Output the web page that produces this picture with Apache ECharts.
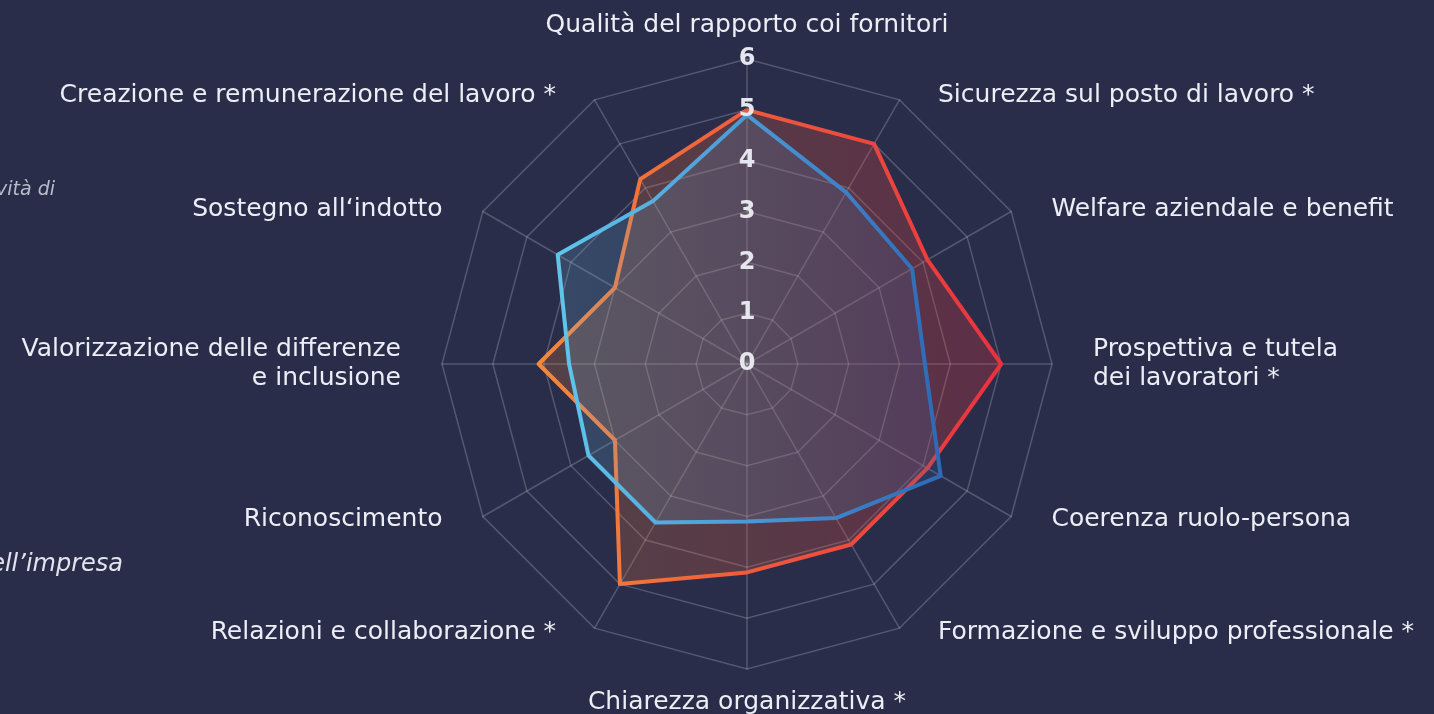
<!DOCTYPE html>
<html>
<head>
<meta charset="utf-8">
<style>
  html, body { margin: 0; padding: 0; background: #2a2d4a; }
  #chart { width: 1434px; height: 714px; }
</style>
<script src="https://cdn.jsdelivr.net/npm/echarts@6/dist/echarts.min.js"></script>
</head>
<body>
<div id="chart"></div>
<script>
// Indicators in ECharts radar order (starting at top, going counter-clockwise)
const indicatorNames = [
  "Qualità del rapporto coi fornitori",
  "Creazione e remunerazione del lavoro *",
  "Sostegno all‘indotto",
  "Valorizzazione delle differenze\ne inclusione",
  "Riconoscimento",
  "Relazioni e collaborazione *",
  "Chiarezza organizzativa *",
  "Formazione e sviluppo professionale *",
  "Coerenza ruolo-persona",
  "Prospettiva e tutela\ndei lavoratori *",
  "Welfare aziendale e benefit",
  "Sicurezza sul posto di lavoro *"
];
const scaleMax = 6;
const tickLabels = ["0", "1", "2", "3", "4", "5", "6"];

const seriesRedValues  = [5.0, 4.2, 3.0, 4.1, 3.0, 5.0, 4.1, 4.1, 4.1, 5.0, 4.1, 5.0];
const seriesBlueValues = [4.9, 3.7, 4.3, 3.5, 3.6, 3.6, 3.1, 3.5, 4.4, 3.5, 3.75, 3.9];

const sideTexts = ["attività di", "dell’impresa"];

const FONT = "'DejaVu Sans', 'Open Sans', sans-serif";
const CENTER = [747, 364];
const RADIUS = 305;

const chart = echarts.init(document.getElementById('chart'), null, { renderer: 'canvas' });

const tickLabelStyle = {
  margin: 0,
  align: 'center',
  verticalAlign: 'middle',
  color: '#e6e7ee',
  fontSize: 24,
  fontWeight: 'bold',
  fontFamily: FONT,
  formatter: (v) => tickLabels[Math.round(v)] ?? ''
};

const gridIndicators = indicatorNames.map(n => ({ name: n, min: 0, max: scaleMax }));
const labelIndicators = indicatorNames.map((n, i) => {
  const ind = { name: n, min: 0, max: scaleMax };
  ind.axisLabel = Object.assign({}, tickLabelStyle, { show: i === 0 });
  return ind;
});

function hGrad(stops) {
  return new echarts.graphic.LinearGradient(0, 0, 1, 0,
    stops.map(s => ({ offset: s[0], color: s[1] })));
}

const option = {
  backgroundColor: '#2a2d4a',
  animation: false,
  graphic: [
    {
      type: 'text',
      x: 55, y: 190,
      style: {
        text: sideTexts[0],
        fill: '#b9bccb',
        font: 'italic 19px ' + FONT,
        textAlign: 'right',
        textVerticalAlign: 'middle'
      }
    },
    {
      type: 'text',
      x: 123, y: 565,
      style: {
        text: sideTexts[1],
        fill: '#e2e3ec',
        font: 'italic 24px ' + FONT,
        textAlign: 'right',
        textVerticalAlign: 'middle'
      }
    }
  ],
  radar: [
    {
      center: CENTER,
      radius: RADIUS,
      startAngle: 90,
      shape: 'polygon',
      splitNumber: 6,
      indicator: gridIndicators,
      axisNameGap: 5,
      axisName: {
        color: '#eceef5',
        fontSize: 25,
        fontFamily: FONT,
        lineHeight: 29,
        padding: [14, 36, 14, 36]
      },
      axisLabel: { show: false },
      axisTick: { show: false },
      axisLine: { lineStyle: { color: 'rgba(255,255,255,0.2)', width: 1.5 } },
      splitLine: { lineStyle: { color: 'rgba(255,255,255,0.2)', width: 1.5 } },
      splitArea: { show: false }
    },
    {
      center: CENTER,
      radius: RADIUS,
      startAngle: 90,
      shape: 'polygon',
      splitNumber: 6,
      z: 10,
      indicator: labelIndicators,
      axisName: { show: false },
      axisLabel: Object.assign({}, tickLabelStyle, { show: false }),
      axisTick: { show: false },
      axisLine: { show: false },
      splitLine: { show: false },
      splitArea: { show: false }
    }
  ],
  series: [
    {
      type: 'radar',
      radarIndex: 0,
      symbol: 'none',
      z: 2,
      data: [
        {
          name: 'Serie 1',
          value: seriesRedValues,
          lineStyle: {
            width: 4,
            color: hGrad([[0, '#f3893a'], [0.45, '#ef5a3c'], [1, '#e8323f']])
          },
          areaStyle: {
            color: hGrad([[0, 'rgba(243,138,58,0.30)'], [1, 'rgba(232,50,60,0.38)']])
          }
        },
        {
          name: 'Serie 2',
          value: seriesBlueValues,
          lineStyle: {
            width: 4,
            color: hGrad([[0, '#5ec6ea'], [0.5, '#4a98d6'], [1, '#2e68b6']])
          },
          areaStyle: {
            color: hGrad([[0, 'rgba(120,200,235,0.25)'], [1, 'rgba(46,109,181,0.25)']])
          }
        }
      ]
    }
  ]
};

chart.setOption(option);
</script>
</body>
</html>
